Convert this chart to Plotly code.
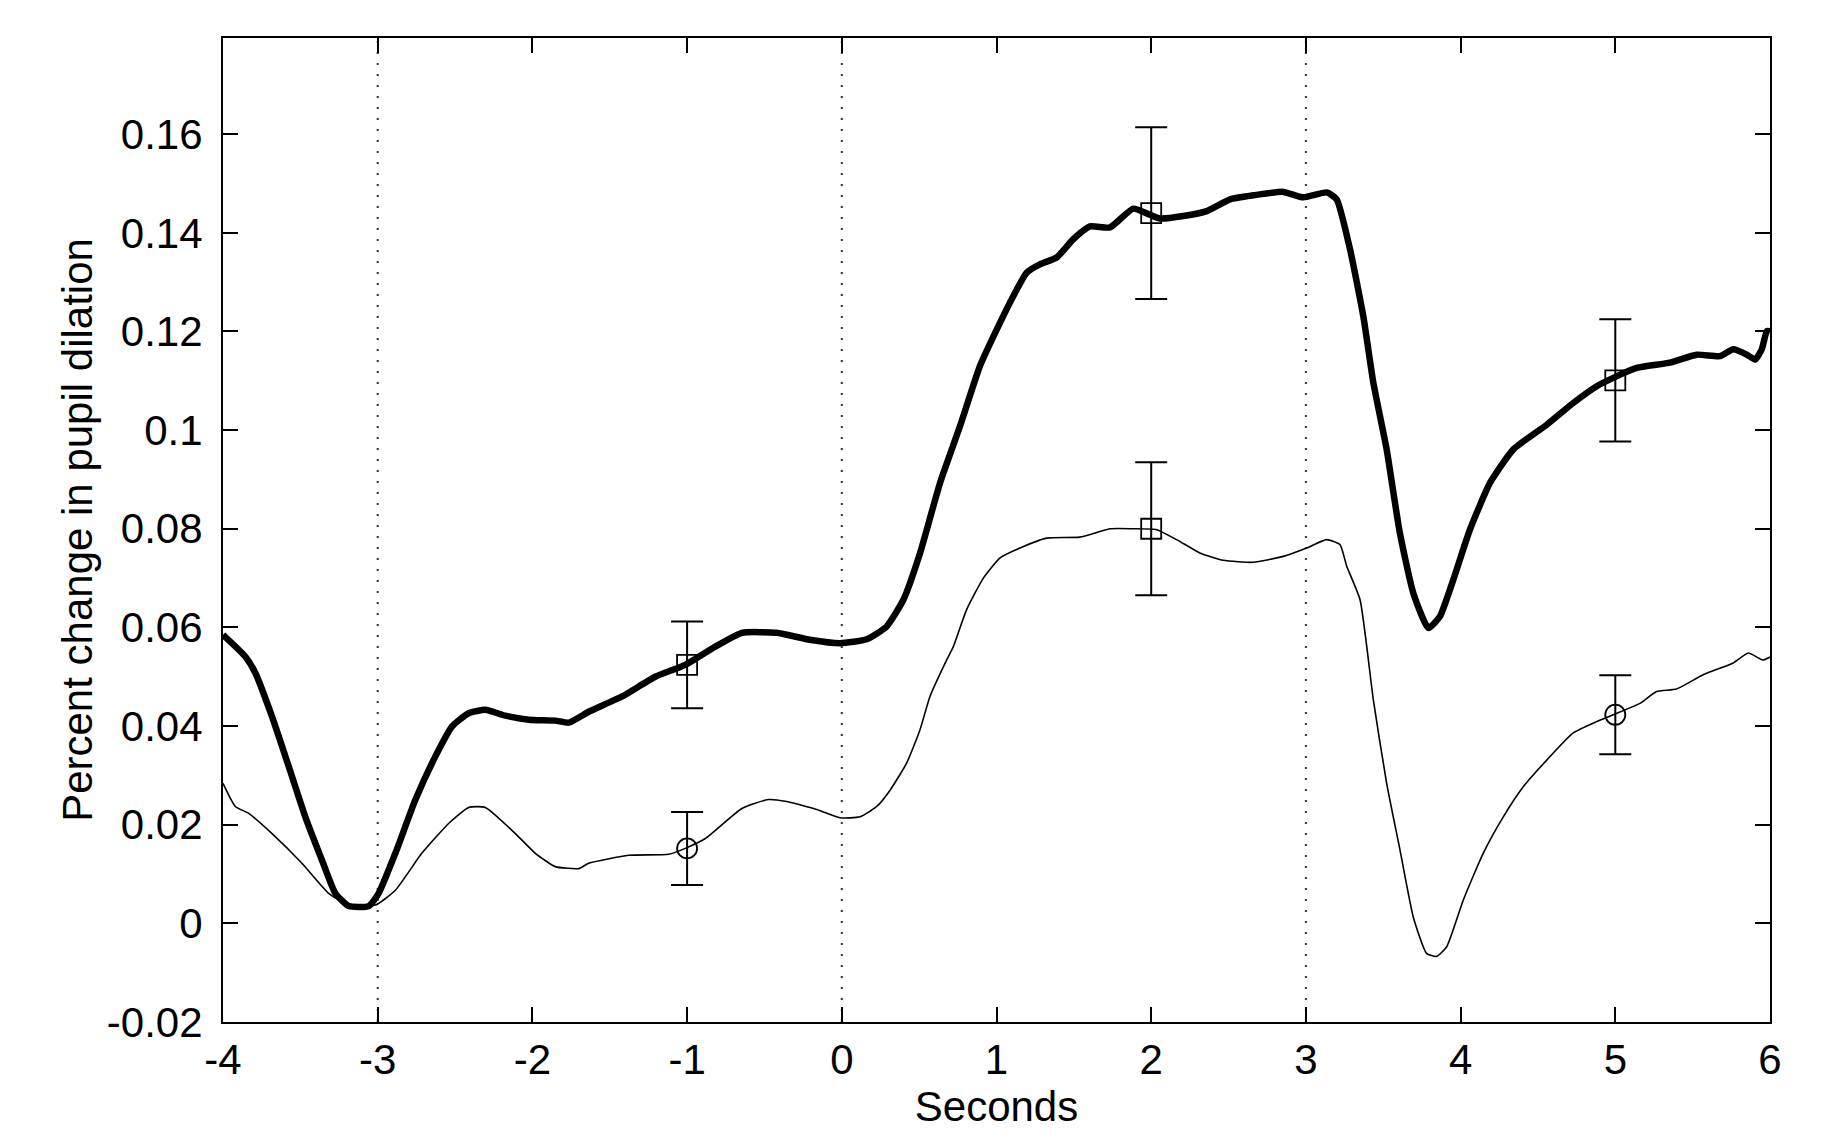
import plotly.graph_objects as go

# ---- data ----
thick_x = [-4.0, -3.856, -3.79, -3.683, -3.575, -3.468, -3.36, -3.274, -3.187, -3.058,
           -2.994, -2.886, -2.757, -2.628, -2.52, -2.412, -2.304, -2.175, -2.024, -1.852,
           -1.765, -1.636, -1.42, -1.206, -1.012, -0.818, -0.645, -0.421, -0.206, -0.012,
           0.161, 0.29, 0.398, 0.505, 0.635, 0.764, 0.893, 1.023, 1.109, 1.195,
           1.28, 1.389, 1.496, 1.604, 1.733, 1.884, 1.981, 2.057, 2.208, 2.359,
           2.51, 2.66, 2.854, 2.983, 3.135, 3.199, 3.285, 3.371, 3.436, 3.522,
           3.607, 3.694, 3.791, 3.866, 3.953, 4.06, 4.19, 4.341, 4.557, 4.728,
           4.88, 4.987, 5.138, 5.354, 5.526, 5.677, 5.763, 5.85, 5.904, 5.947,
           5.98, 6.0]
thick_y = [0.0585, 0.0541, 0.0507, 0.0419, 0.0318, 0.0216, 0.0128, 0.0061, 0.0035, 0.0035,
           0.0061, 0.0142, 0.025, 0.0338, 0.0399, 0.0426, 0.0433, 0.0421, 0.0413, 0.0411,
           0.0407, 0.0429, 0.046, 0.05, 0.0524, 0.0561, 0.0589, 0.0589, 0.0575, 0.0568,
           0.0576, 0.0602, 0.0656, 0.075, 0.0893, 0.1008, 0.113, 0.1218, 0.1272, 0.1319,
           0.1336, 0.135, 0.1387, 0.1413, 0.1411, 0.1449, 0.1438, 0.1429, 0.1434, 0.1444,
           0.1468, 0.1476, 0.1483, 0.1472, 0.1482, 0.1468, 0.1367, 0.1231, 0.1096, 0.0961,
           0.0792, 0.067, 0.0599, 0.0622, 0.0697, 0.0798, 0.0893, 0.0961, 0.1011, 0.1055,
           0.1089, 0.1106, 0.1126, 0.1137, 0.1153, 0.115, 0.1164, 0.1153, 0.1143, 0.1164,
           0.1201, 0.12]

thin_x = [-4.0, -3.92, -3.834, -3.683, -3.49, -3.317, -3.187, -3.015, -2.886, -2.715,
          -2.54, -2.412, -2.304, -2.11, -1.981, -1.852, -1.7, -1.636, -1.377, -1.119,
          -1.012, -0.882, -0.646, -0.475, -0.356, -0.162, -0.012, 0.118, 0.226, 0.312,
          0.419, 0.505, 0.57, 0.678, 0.721, 0.807, 0.915, 1.023, 1.152, 1.324,
          1.539, 1.733, 1.884, 2.035, 2.164, 2.315, 2.466, 2.66, 2.854, 3.005,
          3.134, 3.22, 3.264, 3.35, 3.436, 3.522, 3.608, 3.694, 3.78, 3.844,
          3.909, 4.017, 4.146, 4.276, 4.405, 4.557, 4.728, 4.879, 4.987, 5.159,
          5.267, 5.396, 5.568, 5.763, 5.86, 5.953, 6.0]
thin_y = [0.0284, 0.0237, 0.0223, 0.0182, 0.0122, 0.0061, 0.0037, 0.0037, 0.0067, 0.0142,
          0.0203, 0.0235, 0.0235, 0.0182, 0.0142, 0.0115, 0.0111, 0.0122, 0.0138, 0.014,
          0.0152, 0.0172, 0.0233, 0.0251, 0.0247, 0.0231, 0.0214, 0.0216, 0.0237, 0.027,
          0.0325, 0.0392, 0.046, 0.0534, 0.0561, 0.0636, 0.07, 0.0741, 0.0761, 0.0781,
          0.0783, 0.08, 0.08, 0.0798, 0.0778, 0.0751, 0.0736, 0.0732, 0.0744, 0.0761,
          0.0778, 0.0768, 0.0724, 0.0656, 0.0453, 0.0284, 0.0149, 0.0013, -0.0061, -0.0067,
          -0.0048, 0.0047, 0.0142, 0.0216, 0.0277, 0.0331, 0.0386, 0.0409, 0.0423, 0.0446,
          0.047, 0.0475, 0.0504, 0.0528, 0.0548, 0.0534, 0.054]

err_x = [-1, 2, 5]
thick_mean = [0.0524, 0.144, 0.1101]
thick_err = [0.0088, 0.0174, 0.0124]
thin_mean = [0.0152, 0.080, 0.0423]
thin_err = [0.0074, 0.0135, 0.008]
thick_symbols = ["square-open", "square-open", "square-open"]
thin_symbols = ["circle-open", "square-open", "circle-open"]

event_x = [-3, 0, 3]
x_ticks = [-4, -3, -2, -1, 0, 1, 2, 3, 4, 5, 6]
x_ticktext = ["-4", "-3", "-2", "-1", "0", "1", "2", "3", "4", "5", "6"]
y_ticks = [-0.02, 0, 0.02, 0.04, 0.06, 0.08, 0.1, 0.12, 0.14, 0.16]
y_ticktext = ["-0.02", "0", "0.02", "0.04", "0.06", "0.08", "0.1", "0.12", "0.14", "0.16"]

FONT = "Liberation Sans, Arial, sans-serif"

fig = go.Figure()

fig.add_trace(go.Scatter(x=thin_x, y=thin_y, mode="lines",
                         line=dict(color="black", width=1.6, shape="spline", smoothing=0.5),
                         showlegend=False, hoverinfo="skip"))
fig.add_trace(go.Scatter(x=thick_x, y=thick_y, mode="lines",
                         line=dict(color="black", width=6.5, shape="spline", smoothing=0.5),
                         showlegend=False, hoverinfo="skip"))

fig.add_trace(go.Scatter(x=err_x, y=thick_mean, mode="markers",
                         marker=dict(symbol=thick_symbols, size=20, color="black",
                                     line=dict(color="black", width=1.8)),
                         error_y=dict(type="data", array=thick_err, visible=True,
                                      color="black", thickness=2, width=16),
                         showlegend=False))
fig.add_trace(go.Scatter(x=err_x, y=thin_mean, mode="markers",
                         marker=dict(symbol=thin_symbols, size=20, color="black",
                                     line=dict(color="black", width=1.8)),
                         error_y=dict(type="data", array=thin_err, visible=True,
                                      color="black", thickness=2, width=16),
                         showlegend=False))

for ex in event_x:
    fig.add_shape(type="line", xref="x", yref="paper", x0=ex, x1=ex, y0=0, y1=1,
                  line=dict(color="#333333", width=2, dash="2px,9px"), layer="below")

fig.update_layout(
    width=1840, height=1146,
    margin=dict(l=223, r=70, t=38, b=124),
    paper_bgcolor="white", plot_bgcolor="white",
    font=dict(family=FONT, size=42, color="black"),
)
fig.update_xaxes(range=[-4, 6], tickvals=x_ticks, ticktext=x_ticktext,
                 ticks="inside", ticklen=15, tickwidth=2, tickcolor="black",
                 showline=True, linewidth=2, linecolor="black", mirror="ticks",
                 showgrid=False, zeroline=False,
                 tickfont=dict(family=FONT, size=42, color="black"),
                 title=dict(text="Seconds", font=dict(family=FONT, size=42, color="black"),
                            standoff=0))
fig.update_yaxes(range=[-0.02, 0.1795], tickvals=y_ticks, ticktext=y_ticktext,
                 ticks="inside", ticklen=15, tickwidth=2, tickcolor="black",
                 showline=True, linewidth=2, linecolor="black", mirror="ticks",
                 showgrid=False, zeroline=False,
                 tickfont=dict(family=FONT, size=42, color="black"),
                 ticklabelstandoff=10,
                 title=dict(text="Percent change in pupil dilation",
                            font=dict(family=FONT, size=42, color="black"),
                            standoff=1))

fig.write_html("out.html")
